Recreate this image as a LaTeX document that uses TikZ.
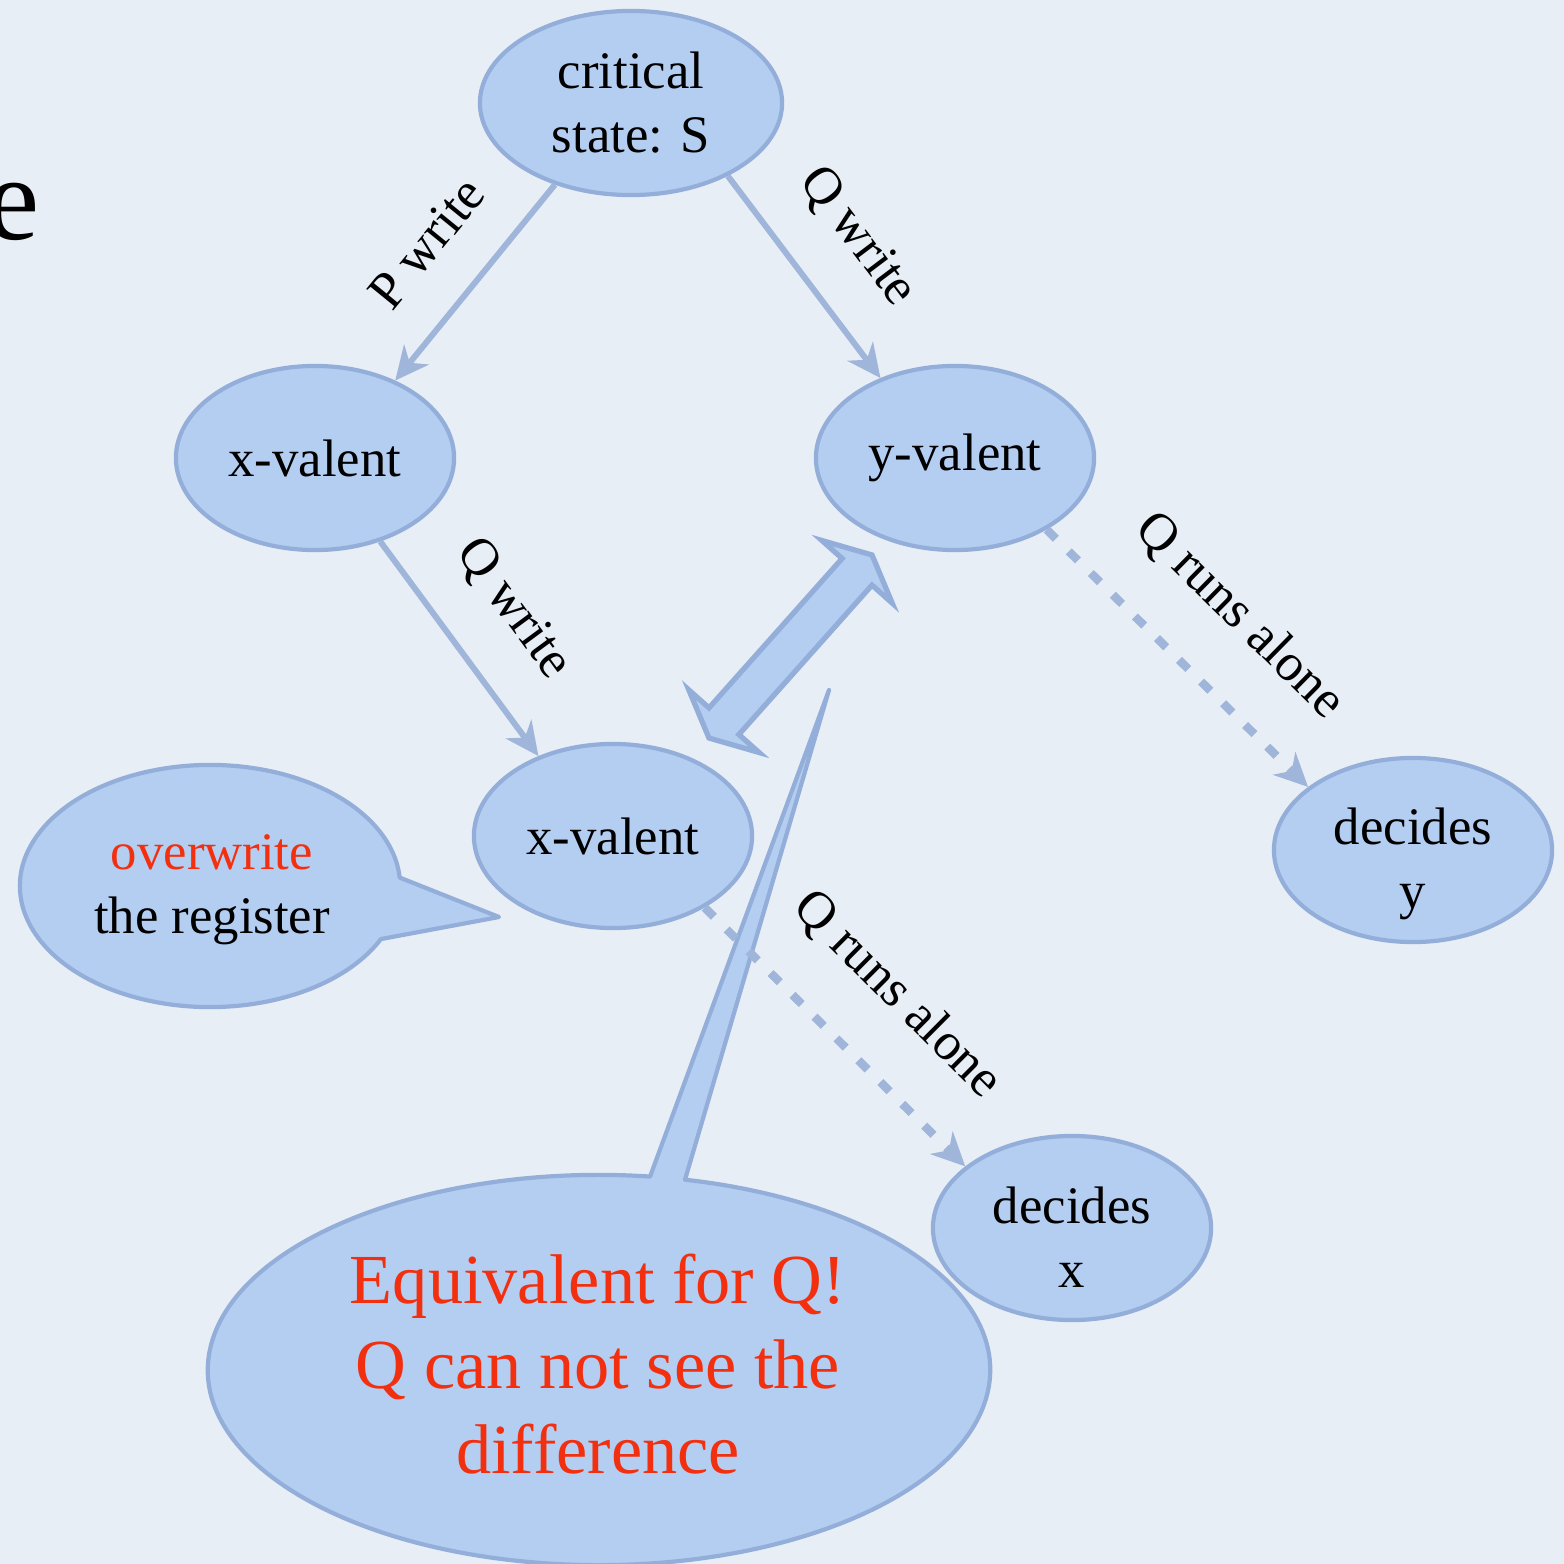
\documentclass[tikz,border=0pt]{standalone}
\usepackage{fontspec}
\setmainfont{Liberation Serif}
\usetikzlibrary{arrows.meta,shapes.geometric}

\definecolor{paper}{HTML}{E8EEF6}
\definecolor{nodefill}{HTML}{B4CEF2}
\definecolor{nodeline}{HTML}{94AEDA}
\definecolor{edgecol}{HTML}{A0B5DA}
\definecolor{alert}{HTML}{F2300F}

\begin{document}
\begin{tikzpicture}[x=0.01cm,y=-0.01cm,
  txt/.style={align=center, font=\fontsize{15}{18.2}\selectfont},
  state/.style={ellipse, draw=nodeline, line width=1.2pt, fill=nodefill,
    minimum width=2.78cm, minimum height=1.84cm, inner sep=0pt, txt},
  bubble/.style={draw=nodeline, line width=1.2pt, fill=nodefill, line join=round},
  move/.style={draw=edgecol, line width=1.7pt,
    -{Stealth[length=9.5pt,width=9pt,inset=3pt]}},
  solo/.style={move, line width=2.4pt, dash pattern=on 3.7pt off 5.1pt},
  lbl/.style={sloped, inner sep=0pt, font=\fontsize{15}{16}\selectfont},
]
% paper
\fill[paper] (0,0) rectangle (1564,1564);
\path[use as bounding box] (0,0) rectangle (1564,1564);

% clipped letter at the left margin
\begin{scope}
\clip (0,0) rectangle (1564,1564);
\node[font=\fontsize{34}{34}\selectfont, anchor=base east, inner sep=0pt] (cut) at (40,240) {e};
\end{scope}

% speech bubbles
\coordinate (sc) at (210,886);
\coordinate (stip) at (499,917);
\draw[bubble] (stip) -- ([shift={(-26:1.9cm and 1.21cm)}]sc)
  arc[start angle=-26, end angle=-356, x radius=1.9cm, y radius=1.21cm] -- cycle;
\node[txt] (note) at (212,890)
  {\textcolor{alert}{overwrite}\\the register};

\coordinate (bc) at (599,1370);
\coordinate (btip) at (829,690);
\draw[bubble] (btip) -- ([shift={(82.5:3.91cm and 1.95cm)}]bc)
  arc[start angle=82.5, end angle=437.3, x radius=3.91cm, y radius=1.95cm] -- cycle;
\node[align=center, text=alert, font=\fontsize{20}{24.2}\selectfont] (claim) at (598,1364)
  {Equivalent for Q!\\Q can not see the\\difference};

% states
\node[state, minimum width=3.02cm] (crit) at (631,103) {critical\\state: S};
\node[state] (xa) at (315,458) {\raisebox{-1pt}{x-valent}};
\node[state] (ya) at (955,458) {\raisebox{-1pt}{y-valent}};
\node[state] (xb) at (613,836) {\raisebox{-1pt}{x-valent}};
\node[state, label={[name=dyt, txt, yshift=-0.14cm]center:{decides\\y}}] (dy) at (1413,850) {};
\node[state, label={[name=dxt, txt, yshift=-0.09cm]center:{decides\\x}}] (dx) at (1072,1228) {};

% transitions
\draw[move] (crit.227) -- node[lbl, above=0.42cm] (pw) {P write} (xa.44);
\draw[move] (crit.323) -- node[lbl, above=0.42cm] (qw1) {Q write} (ya.133);
\draw[move] (xa.308) -- node[lbl, above=0.42cm] (qw2) {Q write} (xb.133);
\draw[solo] (ya.322) -- node[lbl, pos=0.54, above=0.47cm] (qr1) {Q runs alone} (dy.149);
\draw[solo] (xb.322) -- node[lbl, pos=0.54, above=0.47cm] (qr2) {Q runs alone} (dx.150);

% indistinguishability arrow
\begin{scope}[shift={(790.5,646.5)}, rotate=48.3]
\draw[bubble, line width=1.5pt, line join=miter]
  (1.225cm,0cm) -- (1.0cm,0.47cm) -- (1.0cm,0.2cm) -- (-1.0cm,0.2cm)
  -- (-1.0cm,0.47cm) -- (-1.225cm,0cm) -- (-1.0cm,-0.47cm) -- (-1.0cm,-0.2cm)
  -- (1.0cm,-0.2cm) -- (1.0cm,-0.47cm) -- cycle;
\end{scope}
\end{tikzpicture}
\end{document}
